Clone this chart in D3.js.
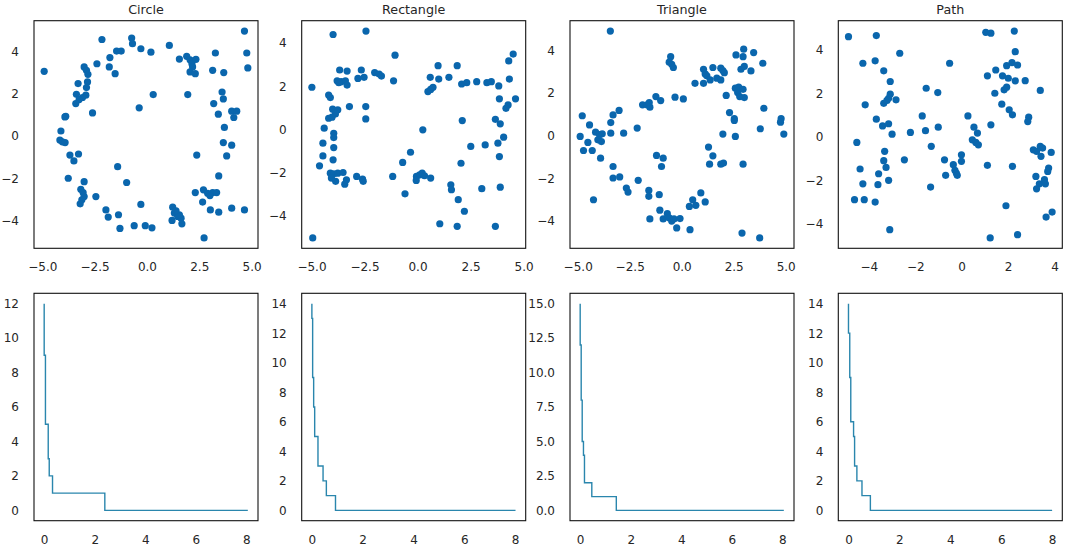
<!DOCTYPE html>
<html>
<head>
<meta charset="utf-8">
<script src="https://cdn.jsdelivr.net/npm/d3@7"></script>
<style>
  body { margin: 0; background: #fff; }
  text { font-family: "DejaVu Sans", sans-serif; fill: #262626; }
</style>
</head>
<body>
<svg id="fig" width="1065" height="547"></svg>
<script>
// point clouds, [x, y]
const circlePts = [
  [-4.91, 3.07], [-2.15, 4.58], [-0.73, 4.65], [-0.69, 4.38], [-0.29, 4.14], [0.19, 3.98],
  [-1.45, 4.03], [-1.23, 4.03], [1.07, 4.30], [-1.77, 3.72], [-1.80, 3.28], [-1.52, 2.96],
  [-2.39, 3.43], [-3.00, 3.28], [-2.89, 3.12], [-2.82, 2.93], [-3.29, 2.49], [-2.84, 2.57],
  [-2.89, 2.30], [-3.37, 1.98], [-2.92, 1.94], [-3.08, 1.83], [-3.24, 1.73], [-3.40, 1.54],
  [-2.60, 1.10], [-3.92, 0.91], [-3.88, 0.94], [-4.11, 0.24], [-4.16, -0.19], [-4.04, -0.27],
  [-3.91, -0.31], [-3.68, -0.90], [-3.27, -0.85], [-3.49, -1.18], [-3.76, -2.00], [-3.00, -2.16],
  [-3.16, -2.52], [-3.05, -2.68], [-3.00, -2.87], [-3.11, -3.02], [-3.19, -3.21], [-2.44, -2.87],
  [-1.96, -3.50], [-1.85, -3.84], [-1.36, -3.73], [-1.29, -4.38], [-1.40, -1.45], [-0.97, -2.20],
  [-0.61, -4.25], [-0.29, -3.24], [-0.08, -4.25], [0.24, -4.35], [-0.37, 1.34], [0.30, 1.97],
  [1.55, 3.65], [1.90, 3.78], [2.06, 3.62], [2.15, 3.43], [2.34, 3.64], [2.18, 3.28],
  [2.06, 3.04], [2.31, 2.96], [1.95, 1.97], [3.27, 3.94], [3.14, 3.12], [3.67, 3.01],
  [4.66, 4.98], [4.77, 3.94], [4.82, 3.23], [3.59, 2.09], [3.65, 1.76], [3.19, 1.54],
  [3.41, 1.04], [4.05, 1.18], [4.29, 1.18], [4.15, 0.88], [3.70, 0.41], [3.65, -0.31],
  [4.05, -0.43], [3.81, -0.94], [2.38, -0.90], [3.43, -1.89], [2.31, -2.68], [2.70, -2.55],
  [2.90, -2.71], [3.14, -2.68], [3.33, -2.68], [3.01, -2.82], [2.66, -3.13], [3.03, -3.50],
  [3.43, -3.61], [4.05, -3.42], [4.66, -3.50], [2.73, -4.83], [1.23, -3.37], [1.31, -3.65],
  [1.47, -3.81], [1.63, -3.89], [1.55, -3.73], [1.67, -4.16], [1.20, -4.00], [1.39, -3.54]
];

const rectanglePts = [
  [-4.98, 1.95], [-4.94, -5.05], [-3.98, 4.40], [-2.43, 4.56], [-1.06, 3.44], [-3.67, 2.75],
  [-3.32, 2.70], [-2.65, 2.75], [-3.79, 2.25], [-3.60, 2.21], [-3.40, 2.25], [-3.32, 2.05],
  [-3.71, 2.16], [-2.81, 2.36], [-2.52, 2.41], [-2.02, 2.63], [-1.81, 2.56], [-1.70, 2.47],
  [-1.13, 2.25], [-4.19, 1.59], [-4.11, 1.47], [-3.21, 1.05], [-2.44, 1.05], [-2.44, 0.48],
  [-4.00, 0.93], [-3.76, 0.90], [-3.87, 0.71], [-4.19, 0.51], [-4.03, 0.56], [-4.40, 0.05],
  [-3.95, -0.19], [-3.95, -0.39], [-4.46, -0.65], [-3.95, -0.85], [-4.46, -1.24], [-3.98, -1.42],
  [-4.62, -1.70], [-4.11, -2.04], [-3.95, -2.07], [-3.76, -2.04], [-3.51, -2.01], [-4.06, -2.27],
  [-3.86, -2.42], [-3.35, -2.35], [-3.43, -2.55], [-2.87, -2.19], [-2.59, -2.32], [-2.56, -2.42],
  [-1.17, -2.19], [-0.59, -3.00], [-0.70, -1.54], [-0.33, -1.07], [-0.05, -2.19], [0.10, -2.12],
  [0.22, -2.04], [0.33, -2.16], [-0.06, -2.38], [0.62, -2.27], [0.25, -0.03], [0.49, 1.75],
  [0.62, 1.85], [0.73, 1.95], [0.60, 2.41], [0.97, 2.95], [1.00, 2.33], [1.48, 2.41],
  [1.87, 2.95], [2.08, 2.10], [2.32, 2.16], [2.79, 2.21], [3.27, 2.16], [3.48, 2.21],
  [3.83, 2.01], [4.30, 3.17], [4.51, 3.49], [4.33, 2.33], [3.86, 1.41], [4.62, 1.41],
  [4.27, 1.13], [4.17, 0.97], [2.11, 0.40], [3.67, 0.46], [3.90, 0.25], [4.06, -0.37],
  [3.79, -0.65], [3.86, -1.27], [2.51, -0.80], [3.19, -0.73], [2.05, -1.58], [3.90, -2.69],
  [3.03, -2.76], [1.57, -2.58], [1.60, -2.81], [1.92, -3.27], [2.21, -3.81], [1.05, -4.39],
  [1.87, -4.51], [3.67, -4.51]
];

const trianglePts = [
  [-3.43, 4.91], [-0.53, 3.71], [-0.60, 3.45], [-0.48, 3.35], [-0.40, 3.20], [-4.78, 0.94],
  [-4.43, 0.51], [-4.88, -0.03], [-4.51, -0.31], [-4.72, -0.69], [-4.30, -0.69], [-4.14, 0.17],
  [-3.95, 0.05], [-3.82, 0.09], [-4.03, -0.19], [-3.86, -0.27], [-3.41, 0.12], [-3.41, 0.62],
  [-3.30, 0.98], [-3.01, 1.19], [-2.79, 0.12], [-2.14, 0.36], [-3.90, -1.05], [-3.30, -1.44],
  [-3.30, -1.98], [-2.98, -1.93], [-4.24, -3.00], [-2.66, -2.45], [-2.58, -2.64], [-2.09, -2.09],
  [-1.58, -2.56], [-1.58, -2.84], [-1.08, -2.76], [-1.53, -3.90], [-1.05, -3.49], [-0.69, -3.65],
  [-0.89, -3.90], [-0.60, -3.85], [-0.48, -4.00], [-0.37, -3.90], [-0.08, -3.88], [-0.24, -4.32],
  [0.40, -4.40], [0.37, -3.31], [0.53, -3.00], [0.68, -3.26], [0.92, -2.68], [1.13, -3.10],
  [-1.21, -0.92], [-0.89, -1.05], [-0.97, -1.44], [-1.88, 1.45], [-1.66, 1.45], [-1.53, 1.34],
  [-1.56, 1.56], [-1.24, 1.84], [-1.01, 1.65], [-0.32, 1.81], [0.08, 1.73], [0.64, 2.46],
  [1.05, 2.46], [1.05, 3.12], [1.21, 2.81], [1.37, 2.62], [1.13, 2.90], [1.50, 3.20],
  [1.69, 2.70], [1.88, 3.17], [1.98, 3.06], [2.05, 2.96], [1.88, 2.62], [2.61, 3.79],
  [2.98, 4.06], [2.95, 3.71], [3.46, 3.90], [3.90, 3.40], [2.85, 3.12], [3.01, 3.25],
  [3.33, 3.04], [2.14, 1.89], [2.58, 2.23], [2.74, 2.28], [2.95, 2.18], [2.69, 2.03],
  [2.79, 1.84], [3.01, 1.79], [2.30, 1.09], [2.53, 0.80], [2.53, 0.72], [3.95, 1.29],
  [3.78, 0.33], [4.78, 0.80], [4.75, 0.64], [4.91, 0.08], [1.98, 0.08], [2.58, -0.03],
  [1.29, -0.53], [1.50, -0.94], [1.34, -1.33], [1.88, -1.33], [2.01, -1.28], [2.95, -1.33],
  [2.90, -4.56], [3.75, -4.79]
];

const pathPts = [
  [-4.88, 4.60], [-3.68, 4.65], [-4.26, 3.38], [-3.73, 3.49], [-2.67, 3.84], [-3.36, 3.03],
  [-3.08, 2.54], [-4.16, 1.47], [-3.36, 1.54], [-3.22, 1.67], [-3.08, 1.96], [-2.83, 1.70],
  [-3.15, 1.77], [-3.68, 0.81], [-3.41, 0.50], [-3.15, 0.60], [-3.00, 0.12], [-4.52, -0.26],
  [-3.32, -0.67], [-4.38, -1.48], [-3.36, -1.10], [-3.26, -1.41], [-3.58, -1.70], [-3.15, -2.00],
  [-4.26, -2.16], [-3.61, -2.20], [-4.62, -2.89], [-4.20, -2.89], [-3.73, -3.00], [-3.10, -4.27],
  [-2.47, -1.06], [-2.21, 0.20], [-1.53, 2.23], [-1.03, 2.03], [-1.70, 0.96], [-1.56, 0.28],
  [-1.01, 0.44], [-1.31, -0.44], [-1.34, -2.31], [-0.52, 3.38], [-0.74, -1.06], [-0.69, -1.77],
  [-0.36, -1.28], [-0.29, -1.54], [-0.23, -1.67], [-0.19, -1.77], [-0.01, -0.83], [-0.01, -1.13],
  [0.27, 0.96], [0.53, 0.44], [0.68, 0.17], [0.46, -0.14], [0.61, -0.26], [0.72, -0.37],
  [1.11, -1.31], [1.26, 0.55], [1.04, 4.80], [1.26, 4.76], [2.27, 4.86], [2.31, 3.91],
  [1.11, 2.80], [1.47, 3.07], [1.43, 2.00], [1.76, 2.80], [2.01, 2.69], [1.94, 3.27],
  [2.17, 3.41], [2.41, 3.30], [2.31, 2.57], [2.74, 2.58], [1.83, 2.16], [1.94, 2.28],
  [1.73, 1.50], [2.05, 1.24], [2.19, 1.01], [3.39, 2.13], [2.89, 0.90], [2.85, 0.70],
  [3.09, -0.60], [3.23, -0.67], [3.39, -0.44], [3.42, -0.90], [3.86, -0.72], [2.19, -1.36],
  [3.20, -1.82], [3.35, -2.16], [3.23, -2.39], [3.57, -1.97], [3.61, -2.16], [3.75, -1.44],
  [3.71, -1.59], [1.91, -3.17], [3.64, -3.69], [3.90, -3.46], [1.23, -4.65], [2.41, -4.50],
  [3.49, -0.52]
];

// step curves: count drops to stepY[i] by stepX[i]
const circleStepX = [0, 0.05, 0.16, 0.20, 0.33, 2.40, 8.06];
const circleStepY = [12, 9, 5, 3, 2, 1, 0];
const rectangleStepX = [0, 0.03, 0.07, 0.11, 0.24, 0.44, 0.57, 0.93, 8.02];
const rectangleStepY = [14, 13, 9, 7, 5, 3, 2, 1, 0];
const triangleStepX = [0, 0.04, 0.08, 0.13, 0.17, 0.46, 1.43, 8.06];
const triangleStepY = [15, 12, 8, 5, 4, 2, 1, 0];
const pathStepX = [0, 0.05, 0.09, 0.20, 0.24, 0.33, 0.53, 0.86, 8.0];
const pathStepY = [14, 12, 9, 6, 5, 3, 2, 1, 0];

const titles = ['Circle', 'Rectangle', 'Triangle', 'Path'];
const scatterXTicks = [
  [-5, -2.5, 0, 2.5, 5], [-5, -2.5, 0, 2.5, 5], [-5, -2.5, 0, 2.5, 5], [-4, -2, 0, 2, 4]
];
const scatterYTicks = [-4, -2, 0, 2, 4];
const stepXTicks = [0, 2, 4, 6, 8];
const stepYTicks = [
  [0, 2, 4, 6, 8, 10, 12], [0, 2, 4, 6, 8, 10, 12, 14],
  [0, 2.5, 5, 7.5, 10, 12.5, 15], [0, 2, 4, 6, 8, 10, 12, 14]
];

const panels = [
  { pts: circlePts, sx: circleStepX, sy: circleStepY, xf: '.1f', yf: 'd' },
  { pts: rectanglePts, sx: rectangleStepX, sy: rectangleStepY, xf: '.1f', yf: 'd' },
  { pts: trianglePts, sx: triangleStepX, sy: triangleStepY, xf: '.1f', yf: '.1f' },
  { pts: pathPts, sx: pathStepX, sy: pathStepY, xf: 'd', yf: 'd' }
];

const lefts = [34, 301.7, 570, 838.3];
const pw = 224;
const rows = [{ top: 20.7, h: 227.6 }, { top: 293.3, h: 227.4 }];

const svg = d3.select('#fig');

// matplotlib-like 5% margin
function padded(ext) {
  const p = (ext[1] - ext[0]) * 0.05;
  return [ext[0] - p, ext[1] + p];
}

function frame(g, h) {
  g.append('rect')
    .attr('width', pw).attr('height', h)
    .attr('fill', 'none').attr('stroke', '#111').attr('stroke-width', 1.1);
}

function axes(g, x, y, h, xt, yt, xf, yf) {
  g.append('g')
    .attr('transform', `translate(0,${h})`)
    .call(d3.axisBottom(x).tickValues(xt).tickFormat(d3.format(xf)).tickSize(0).tickPadding(14.5))
    .call(a => a.select('.domain').remove())
    .selectAll('text').attr('font-size', 12).attr('fill', '#262626');
  g.append('g')
    .call(d3.axisLeft(y).tickValues(yt).tickFormat(d3.format(yf)).tickSize(0).tickPadding(15))
    .call(a => a.select('.domain').remove())
    .selectAll('text').attr('font-size', 12).attr('fill', '#262626');
}

panels.forEach((p, i) => {
  // top: scatter
  const top = rows[0];
  const g = svg.append('g').attr('transform', `translate(${lefts[i]},${top.top})`);
  const x = d3.scaleLinear().domain(padded(d3.extent(p.pts, d => d[0]))).range([0, pw]);
  const y = d3.scaleLinear().domain(padded(d3.extent(p.pts, d => d[1]))).range([top.h, 0]);

  g.selectAll('circle').data(p.pts).enter().append('circle')
    .attr('cx', d => x(d[0]))
    .attr('cy', d => y(d[1]))
    .attr('r', 3.6)
    .attr('fill', '#0a66ad');

  frame(g, top.h);
  axes(g, x, y, top.h, scatterXTicks[i], scatterYTicks, p.xf, 'd');

  svg.append('text')
    .attr('x', lefts[i] + pw / 2).attr('y', 13.5)
    .attr('text-anchor', 'middle').attr('font-size', 12.7)
    .text(titles[i]);

  // bottom: step curve
  const bot = rows[1];
  const g2 = svg.append('g').attr('transform', `translate(${lefts[i]},${bot.top})`);
  const steps = p.sx.map((v, k) => [v, p.sy[k]]);
  const x2 = d3.scaleLinear().domain(padded(d3.extent(p.sx))).range([0, pw]);
  const y2 = d3.scaleLinear().domain(padded(d3.extent(p.sy))).range([bot.h, 0]);

  g2.append('path')
    .datum(steps)
    .attr('fill', 'none')
    .attr('stroke', '#2a86ad')
    .attr('stroke-width', 1.4)
    .attr('d', d3.line().x(d => x2(d[0])).y(d => y2(d[1])).curve(d3.curveStepBefore));

  frame(g2, bot.h);
  axes(g2, x2, y2, bot.h, stepXTicks, stepYTicks[i], 'd', p.yf);
});
</script>
</body>
</html>
